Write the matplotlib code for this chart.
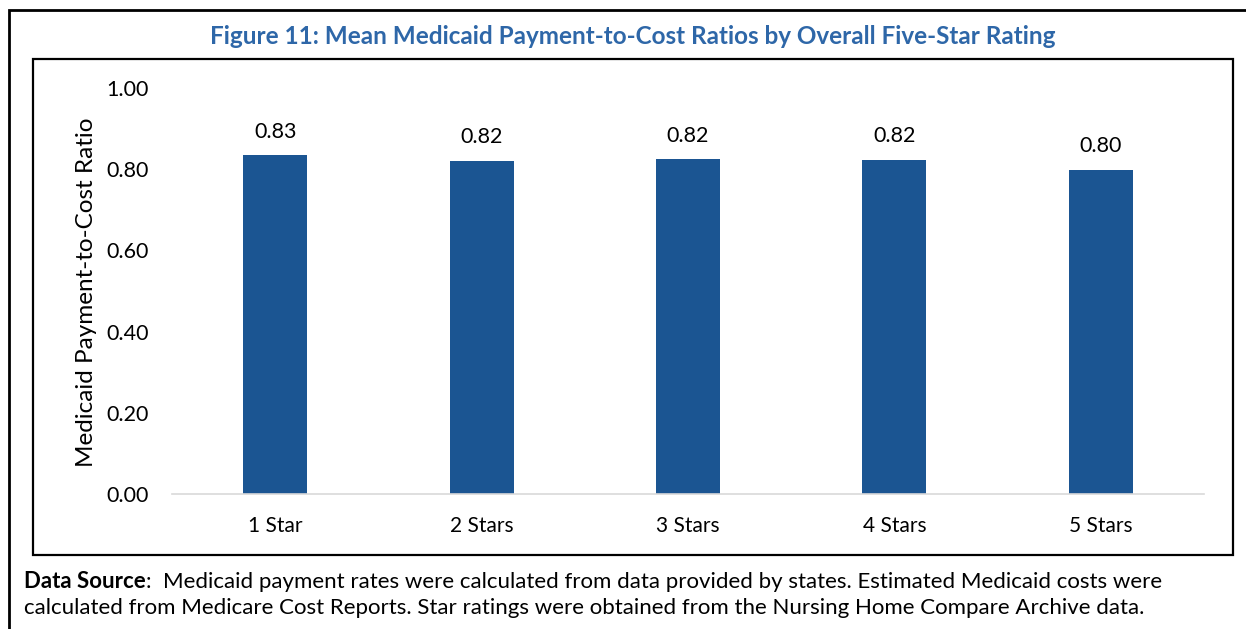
import matplotlib
matplotlib.use("Agg")
import matplotlib.pyplot as plt
from matplotlib.patches import Rectangle
from matplotlib.text import Annotation

categories = ["1 Star", "2 Stars", "3 Stars", "4 Stars", "5 Stars"]
values = [0.834, 0.821, 0.824, 0.823, 0.798]
yticks = [0.0, 0.2, 0.4, 0.6, 0.8, 1.0]
title = "Figure 11: Mean Medicaid Payment-to-Cost Ratios by Overall Five-Star Rating"
ylabel = "Medicaid Payment-to-Cost Ratio"
note_bold = "Data Source"
note_rest = (":  Medicaid payment rates were calculated from data provided by states. "
             "Estimated Medicaid costs were")
note_line2 = ("calculated from Medicare Cost Reports. Star ratings were obtained from the "
              "Nursing Home Compare Archive data.")

plt.rcParams['font.family'] = ['Lato', 'DejaVu Sans']

W, H = 1246, 629
fig = plt.figure(figsize=(W / 100, H / 100), dpi=100)
fig.patch.set_facecolor("white")

def fx(px):
    return px / W

def fy(py):
    return 1 - py / H

ax = fig.add_axes([fx(172), fy(494), fx(1204) - fx(172), fy(88) - fy(494)])
x = list(range(len(categories)))
ax.bar(x, values, width=0.31, color="#1B5592")
ax.set_xlim(-0.5, len(categories) - 0.5)
ax.set_ylim(0, 1.0)
ax.set_yticks(yticks)
ax.set_yticklabels([f"{v:.2f}" for v in yticks], fontsize=15.5)
ax.set_xticks(x)
ax.set_xticklabels(categories, fontsize=15)
ax.tick_params(axis='both', length=0)
ax.tick_params(axis='y', pad=17)
ax.tick_params(axis='x', pad=16)
for s in ["top", "right", "left"]:
    ax.spines[s].set_visible(False)
ax.spines["bottom"].set_color("#D9D9D9")
ax.spines["bottom"].set_linewidth(1.2)
for xi, v in zip(x, values):
    ax.annotate(f"{v:.2f}", xy=(xi, v), xytext=(0, 10), textcoords="offset points",
                ha="center", va="bottom", fontsize=15.5)
ax.set_ylabel(ylabel, fontsize=17.5, va="center", ha="center")
ax.yaxis.set_label_coords(fx(87), fy(292), transform=fig.transFigure)

fig.text(fx(633), fy(37), title, ha="center", va="center", fontsize=17.5,
         fontweight="bold", color="#2E67A8")

# frames
fig.patches.append(Rectangle((fx(9), -0.2), 1.5, fy(10) + 0.2, transform=fig.transFigure,
                             fill=False, edgecolor="black", linewidth=2.0, figure=fig))
fig.patches.append(Rectangle((fx(33), fy(555)), fx(1233) - fx(33), fy(59) - fy(555),
                             transform=fig.transFigure, fill=False, edgecolor="black",
                             linewidth=1.6, figure=fig))

t1 = fig.text(fx(24), fy(582), note_bold, ha="left", va="center", fontsize=16,
              fontweight="bold")
a = Annotation(note_rest, xy=(1, 0), xycoords=t1, ha="left", va="bottom", fontsize=16)
a.set_figure(fig)
fig.texts.append(a)
fig.text(fx(24), fy(608), note_line2, ha="left", va="center", fontsize=16)

fig.savefig("out.png", dpi=100)
